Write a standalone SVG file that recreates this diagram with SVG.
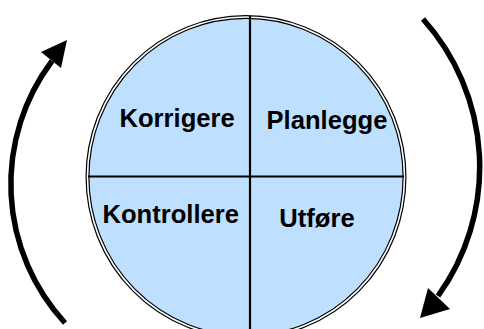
<svg xmlns="http://www.w3.org/2000/svg" width="484" height="329" viewBox="0 0 484 329">
<style>
.lbl{font-family:"Liberation Sans",Arial,sans-serif;font-weight:bold;font-size:25.6px;fill:#000}
.arc{fill:none;stroke:#000;stroke-width:5.5}
.div{stroke:#000;fill:none}
</style>
<rect width="484" height="329" fill="#fff"/>
<g id="circle">
<ellipse cx="246" cy="177" rx="158.5" ry="160" fill="#bfdfff" stroke="#000" stroke-width="4"/>
<ellipse cx="246" cy="177" rx="158.5" ry="160" fill="none" stroke="#fff" stroke-width="1.6"/>
<line class="div" x1="250" y1="16" x2="250" y2="329" stroke-width="2.2"/>
<line class="div" x1="88" y1="176.5" x2="404" y2="176.5" stroke-width="1.8"/>
</g>
<g id="korrigere"><text class="lbl" x="119.5" y="127">Korrigere</text></g>
<g id="planlegge"><text class="lbl" x="266.5" y="129">Planlegge</text></g>
<g id="kontrollere"><text class="lbl" x="102.5" y="222.7">Kontrollere</text></g>
<g id="utfore"><text class="lbl" x="279.3" y="226.5">Utføre</text></g>
<g id="connectors">
<path class="arc" d="M65,323 A205,205 0 0 1 52,61"/>
<polygon points="67,40 41,52 61,68" fill="#000"/>
<path class="arc" d="M423,19 A221,221 0 0 1 438,296"/>
<polygon points="420,318 428,288 450,309" fill="#000"/>
</g>
</svg>
